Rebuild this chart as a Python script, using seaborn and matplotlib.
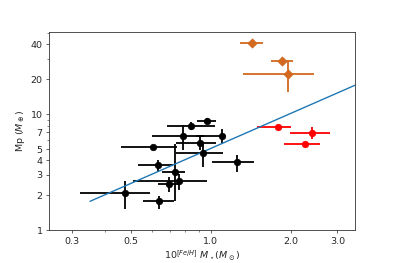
import numpy as np
import pandas as pd
import matplotlib
matplotlib.use('Agg')
import matplotlib.pyplot as plt
from matplotlib.ticker import FixedLocator, FixedFormatter, NullFormatter
import seaborn as sns

# black points: x, x-lo, x-hi, y, y-lo, y-hi
bk_x = [0.966, 0.842, 0.783, 1.106, 0.911, 0.606, 0.937, 1.254, 0.634, 0.731, 0.757, 0.695, 0.474, 0.639]
bk_xlo = [0.885, 0.681, 0.598, 0.88, 0.739, 0.46, 0.739, 1.009, 0.532, 0.652, 0.509, 0.633, 0.32, 0.553]
bk_xhi = [1.047, 1.038, 0.943, 1.12, 1.047, 0.743, 1.11, 1.459, 0.722, 0.799, 0.966, 0.754, 0.589, 0.726]
bk_y = [8.75, 7.88, 6.46, 6.5, 5.7, 5.22, 4.67, 3.88, 3.63, 3.18, 2.66, 2.53, 2.1, 1.79]
bk_ylo = [8.3, 7.3, 4.96, 5.7, 4.95, 5.1, 3.51, 3.18, 3.18, 1.79, 2.21, 2.14, 1.54, 1.54]
bk_yhi = [9.2, 8.5, 8.04, 7.4, 6.5, 5.35, 5.59, 4.49, 4.07, 5.59, 3.08, 2.88, 2.64, 1.96]

# red points
rd_x = [1.79, 2.41, 2.26]
rd_xlo = [1.49, 1.98, 1.88]
rd_xhi = [2.01, 2.81, 2.58]
rd_y = [7.78, 6.95, 5.59]
rd_ylo = [7.7, 6.18, 5.5]
rd_yhi = [7.9, 7.78, 5.7]

# orange diamonds
or_x = [1.43, 1.86, 1.96]
or_xlo = [1.29, 1.69, 1.32]
or_xhi = [1.57, 2.04, 2.45]
or_y = [40.7, 28.6, 22.2]
or_ylo = [40.0, 28.0, 15.6]
or_yhi = [41.4, 29.2, 28.6]

# fitted relation (end points)
fit_x = [0.35, 3.6]
fit_y = [1.78, 18.3]

sns.set_style('ticks')
plt.rcParams['font.family'] = ['DejaVu Sans']
plt.rcParams['font.size'] = 6.8
plt.rcParams['mathtext.fontset'] = 'dejavusans'

fig = plt.figure(figsize=(3.95, 2.63), dpi=100)
ax = fig.add_axes([0.124, 0.124, 0.775, 0.754])


def draw(xs, xlo, xhi, ys, ylo, yhi, color, marker):
    xs, ys = np.array(xs), np.array(ys)
    xerr = [xs - np.array(xlo), np.array(xhi) - xs]
    yerr = [ys - np.array(ylo), np.array(yhi) - ys]
    ax.errorbar(xs, ys, xerr=xerr, yerr=yerr, fmt='none', ecolor=color, elinewidth=1.3)
    sns.scatterplot(x=xs, y=ys, color=color, marker=marker, s=22, edgecolor=color,
                    linewidth=0.5, ax=ax, zorder=3)


draw(bk_x, bk_xlo, bk_xhi, bk_y, bk_ylo, bk_yhi, 'black', 'o')
draw(rd_x, rd_xlo, rd_xhi, rd_y, rd_ylo, rd_yhi, 'red', 'o')
draw(or_x, or_xlo, or_xhi, or_y, or_ylo, or_yhi, '#d2691e', 'D')

df_fit = pd.DataFrame({'x': fit_x, 'y': fit_y})
sns.lineplot(data=df_fit, x='x', y='y', color='#1f77b4', linewidth=1.0, ax=ax)

ax.set_xscale('log')
ax.set_yscale('log')
ax.set_xlim(0.245, 3.5)
ax.set_ylim(1, 51)

xt = [0.3, 0.5, 1.0, 2.0, 3.0]
yt = [1, 2, 3, 4, 5, 7, 10, 20, 40]
ax.xaxis.set_major_locator(FixedLocator(xt))
ax.xaxis.set_major_formatter(FixedFormatter([str(v) for v in xt]))
ax.xaxis.set_minor_formatter(NullFormatter())
ax.yaxis.set_major_locator(FixedLocator(yt))
ax.yaxis.set_major_formatter(FixedFormatter([str(v) for v in yt]))
ax.yaxis.set_minor_formatter(NullFormatter())
ax.tick_params(which='major', length=2.3, width=0.5, pad=2.3)
ax.tick_params(which='minor', length=1.3, width=0.4)
for s in ax.spines.values():
    s.set_linewidth(0.6)
    s.set_color('#333333')

ax.set_xlabel(r'$10^{[Fe/H]}\ M_\star (M_\odot)$', labelpad=2.5)
ax.set_ylabel(r'Mp ($M_\oplus$)', labelpad=2.5)

fig.savefig('out.png', dpi=100)
